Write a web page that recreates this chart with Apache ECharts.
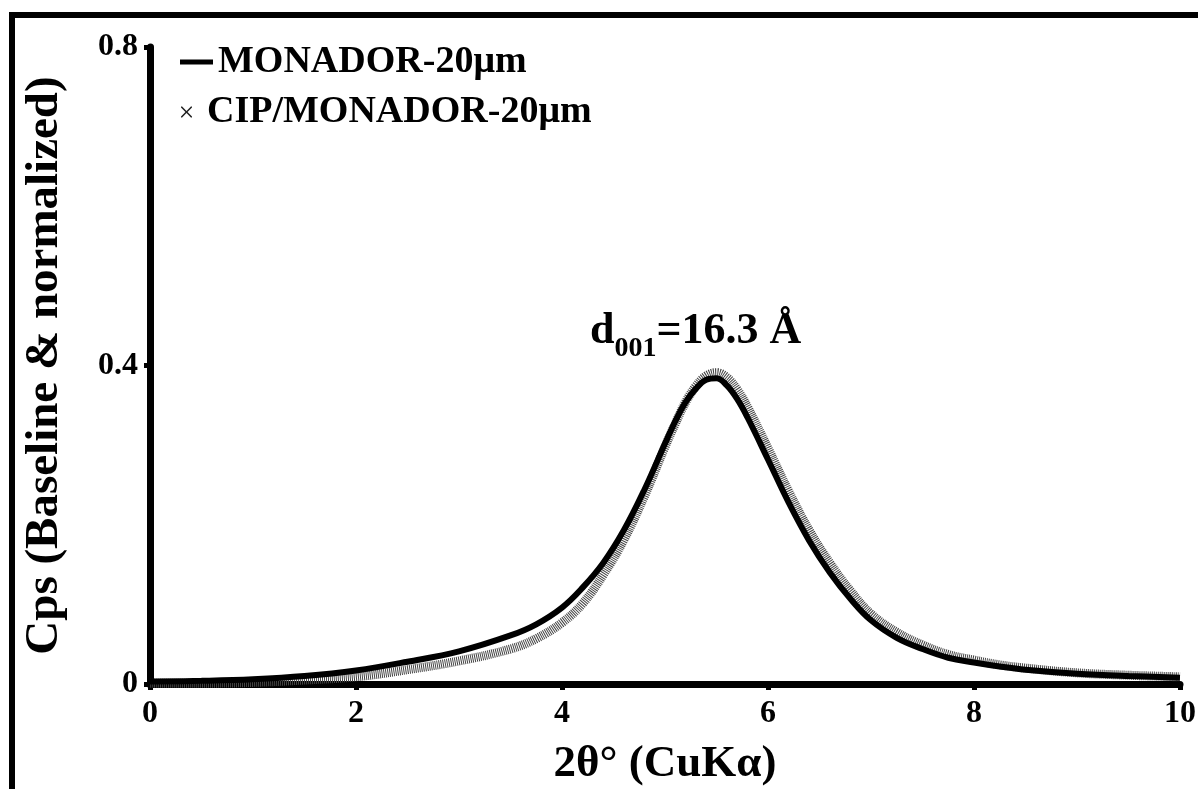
<!DOCTYPE html>
<html>
<head>
<meta charset="utf-8">
<script src="https://cdn.jsdelivr.net/npm/echarts@6/dist/echarts.min.js"></script>
<style>
  html, body { margin: 0; padding: 0; background: #fff; }
  #chart { width: 1198px; height: 789px; }
</style>
</head>
<body>
<div id="chart"></div>
<script>
var twoTheta = [0, 0.5, 1, 1.5, 2, 2.5, 3, 3.5, 3.75, 4, 4.2, 4.4, 4.6, 4.8, 5, 5.1, 5.2, 5.3, 5.4, 5.5,
    5.6, 5.7, 5.8, 6, 6.2, 6.4, 6.6, 6.8, 7, 7.25, 7.5, 7.75, 8, 8.25, 8.5, 9, 9.5, 10];
var monador = [0.003, 0.004, 0.006, 0.010, 0.017, 0.028, 0.041, 0.061, 0.075, 0.096, 0.121, 0.152, 0.193, 0.244, 0.302, 0.330, 0.354, 0.371, 0.382, 0.384,
    0.375, 0.358, 0.335, 0.282, 0.228, 0.180, 0.140, 0.107, 0.080, 0.058, 0.044, 0.033, 0.027, 0.022, 0.018, 0.013, 0.010, 0.008];
var cipMonador = [0.001, 0.001, 0.002, 0.005, 0.009, 0.018, 0.029, 0.044, 0.057, 0.077, 0.101, 0.137, 0.181, 0.236, 0.298, 0.327, 0.354, 0.374, 0.387, 0.391,
    0.385, 0.370, 0.348, 0.296, 0.242, 0.193, 0.152, 0.117, 0.088, 0.065, 0.049, 0.037, 0.030, 0.024, 0.020, 0.014, 0.011, 0.009];
var xTicks = [0, 2, 4, 6, 8, 10];
var yTicks = [0, 0.4, 0.8];

var serif = 'Liberation Serif, Times New Roman, serif';
var crossIcon = 'path://M0,0 L1.2,0 L6,4.8 L10.8,0 L12,0 L12,1.2 L7.2,6 L12,10.8 L12,12 L10.8,12 L6,7.2 L1.2,12 L0,12 L0,10.8 L4.8,6 L0,1.2 Z';

var pairs = function (xs, ys) {
    return xs.map(function (x, i) { return [x, ys[i]]; });
};

var chart = echarts.init(document.getElementById('chart'));
var option = {
    backgroundColor: '#fff',
    animation: false,
    grid: { left: 150, right: 18, top: 47, bottom: 105, containLabel: false, outerBoundsMode: 'none' },
    legend: [
        {
            left: 180, top: 43, padding: 0, selectedMode: false,
            itemWidth: 33, itemHeight: 5,
            data: [{ name: 'MONADOR-20μm', icon: 'rect' }],
            textStyle: { fontFamily: serif, fontWeight: 'bold', fontSize: 38, color: '#000' }
        },
        {
            left: 181, top: 93, padding: 0, selectedMode: false,
            itemWidth: 11, itemHeight: 11,
            data: [{ name: 'CIP/MONADOR-20μm', icon: crossIcon, itemStyle: { color: '#222' } }],
            textStyle: { fontFamily: serif, fontWeight: 'bold', fontSize: 38, color: '#000', padding: [0, 0, 0, 10] }
        }
    ],
    xAxis: {
        type: 'value', min: xTicks[0], max: xTicks[xTicks.length - 1], interval: 2,
        name: '2θ° (CuKα)', nameLocation: 'middle', nameGap: 58,
        nameTextStyle: { fontFamily: serif, fontWeight: 'bold', fontSize: 45, color: '#000' },
        axisLine: { lineStyle: { color: '#000', width: 7 } },
        axisTick: { length: 6, lineStyle: { color: '#000', width: 5 } },
        axisLabel: { margin: 14, fontFamily: serif, fontWeight: 'bold', fontSize: 32, color: '#000' },
        splitLine: { show: false }
    },
    yAxis: {
        type: 'value', min: yTicks[0], max: yTicks[yTicks.length - 1], interval: 0.4,
        name: 'Cps (Baseline & normalized)', nameLocation: 'middle', nameGap: 82,
        nameTextStyle: { fontFamily: serif, fontWeight: 'bold', fontSize: 47, color: '#000' },
        axisLine: { lineStyle: { color: '#000', width: 7 } },
        axisTick: { length: 6, lineStyle: { color: '#000', width: 5 } },
        axisLabel: { margin: 12, fontFamily: serif, fontWeight: 'bold', fontSize: 32, color: '#000' },
        splitLine: { show: false }
    },
    series: [
        {
            name: 'CIP/MONADOR-20μm', type: 'line', smooth: 0.4, showSymbol: false, z: 2,
            itemStyle: { color: '#222' },
            lineStyle: { color: '#444', width: 9, type: [1, 1] },
            data: pairs(twoTheta, cipMonador)
        },
        {
            name: 'MONADOR-20μm', type: 'line', smooth: 0.4, showSymbol: false, z: 3,
            itemStyle: { color: '#000' },
            lineStyle: { color: '#000', width: 6 },
            data: pairs(twoTheta, monador)
        }
    ],
    graphic: [
        {
            type: 'rect', silent: true,
            shape: { x: 12, y: 15, width: 1400, height: 1000 },
            style: { fill: 'none', stroke: '#000', lineWidth: 6 }
        },
        {
            type: 'text', left: 590, top: 310, silent: true,
            style: {
                text: '{a|d}{b|001}{a|=16.3 Å}',
                rich: {
                    a: { fontFamily: serif, fontWeight: 'bold', fontSize: 44, color: '#000', verticalAlign: 'bottom' },
                    b: { fontFamily: serif, fontWeight: 'bold', fontSize: 28, color: '#000', verticalAlign: 'bottom', padding: [0, 0, -9, 0] }
                }
            }
        }
    ]
};
chart.setOption(option);
</script>
</body>
</html>
